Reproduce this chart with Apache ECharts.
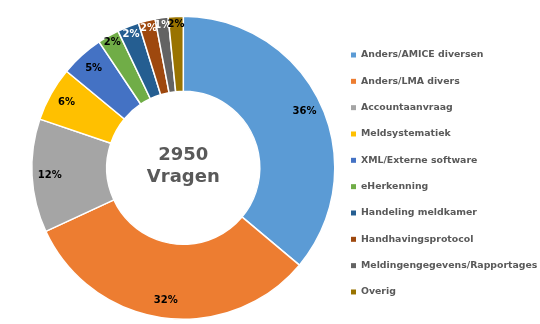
<!DOCTYPE html>
<html>
<head>
<meta charset="utf-8">
<script src="https://cdn.jsdelivr.net/npm/echarts@6/dist/echarts.min.js"></script>
<style>
html,body{margin:0;padding:0;background:#fff;}
#chart{width:540px;height:324px;}
</style>
</head>
<body>
<div id="chart"></div>
<script>
const categories = [
  'Anders/AMICE diversen',
  'Anders/LMA divers',
  'Accountaanvraag',
  'Meldsystematiek',
  'XML/Externe software',
  'eHerkenning',
  'Handeling meldkamer',
  'Handhavingsprotocol',
  'Meldingengegevens/Rapportages',
  'Overig'
];
const counts = [1065, 944, 357, 171, 136, 68, 68, 53, 41, 47];
const colors = ['#5B9BD5', '#ED7D31', '#A5A5A5', '#FFC000', '#4472C4', '#70AD47', '#255E91', '#9E480E', '#636363', '#997300'];
const labelColors = ['#000', '#000', '#000', '#000', '#000', '#000', '#fff', '#fff', '#fff', '#000'];
const centerText = ['2950', 'Vragen'];

const font = 'DejaVu Sans';
const center = [183.3, 167.8];

const mainData = categories.map((name, i) => ({
  name: name,
  value: counts[i],
  itemStyle: { color: colors[i] }
}));
// large slices get labels on one ring, small slices on an outer ring
const makeLabelData = (large) => categories.map((name, i) => ({
  name: name,
  value: counts[i],
  label: { show: (counts[i] / 2950 >= 0.04) === large, color: labelColors[i] }
}));

const labelSeries = (radius, large) => ({
  type: 'pie',
  center: center,
  radius: radius,
  startAngle: 90,
  clockwise: true,
  silent: true,
  avoidLabelOverlap: false,
  minShowLabelAngle: 0,
  legendHoverLink: false,
  itemStyle: { color: 'rgba(0,0,0,0)', borderWidth: 0 },
  emphasis: { disabled: true },
  labelLine: { show: false },
  labelLayout: { hideOverlap: false },
  label: {
    position: 'inside',
    fontFamily: font,
    fontWeight: 'bold',
    fontSize: 10,
    formatter: p => Math.round(p.percent) + '%'
  },
  data: makeLabelData(large)
});

const chart = echarts.init(document.getElementById('chart'), null, { renderer: 'canvas' });
chart.setOption({
  animation: false,
  backgroundColor: '#fff',
  legend: {
    orient: 'vertical',
    left: 346,
    top: 44,
    icon: 'rect',
    itemWidth: 5,
    itemHeight: 5,
    itemGap: 14.33,
    data: categories,
    itemStyle: { borderWidth: 0 },
    textStyle: {
      fontFamily: font,
      fontWeight: 'bold',
      fontSize: 9.35,
      lineHeight: 12,
      color: '#595959'
    }
  },
  graphic: [{
    type: 'text',
    silent: true,
    style: {
      text: centerText.join('\n'),
      x: center[0],
      y: 166,
      align: 'center',
      verticalAlign: 'middle',
      fontFamily: font,
      fontWeight: 'bold',
      fontSize: 18,
      lineHeight: 22,
      fill: '#595959'
    }
  }],
  series: [
    {
      type: 'pie',
      center: center,
      radius: [76.5, 151.5],
      startAngle: 90,
      clockwise: true,
      avoidLabelOverlap: false,
      label: { show: false },
      labelLine: { show: false },
      itemStyle: { borderColor: '#fff', borderWidth: 1.5 },
      emphasis: { disabled: true },
      data: mainData
    },
    labelSeries([110, 151.5], true),
    labelSeries([130, 151.5], false)
  ]
});
</script>
</body>
</html>
